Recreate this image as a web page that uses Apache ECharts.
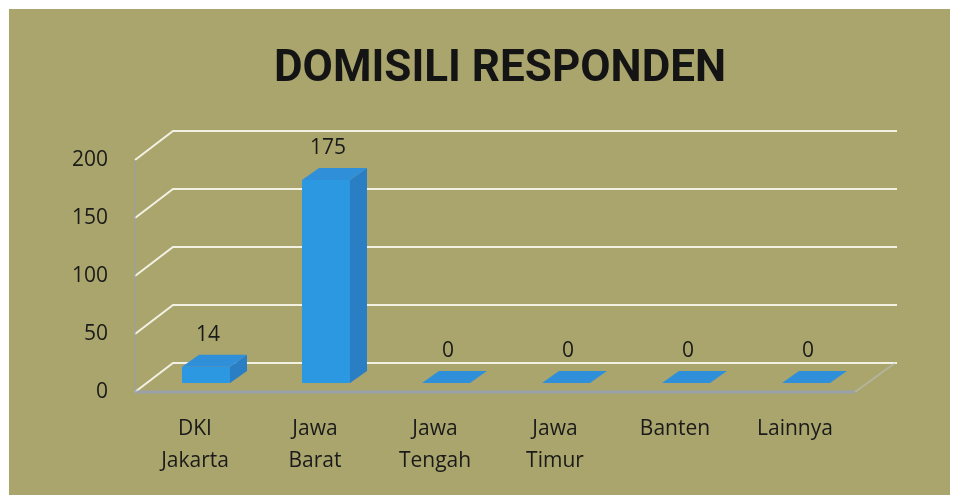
<!DOCTYPE html>
<html>
<head>
<meta charset="utf-8">
<script src="https://cdn.jsdelivr.net/npm/echarts@6/dist/echarts.min.js"></script>
<style>
    html, body { margin: 0; padding: 0; background: #fff; }
    #chart {
        position: absolute;
        left: 9px;
        top: 9px;
        width: 941px;
        height: 486px;
        background: #aaa56c;
    }
</style>
</head>
<body>
<div id="chart"></div>
<script>
// data
const categories = ['DKI\nJakarta', 'Jawa\nBarat', 'Jawa\nTengah', 'Jawa\nTimur', 'Banten', 'Lainnya'];
const values = [14, 175, 0, 0, 0, 0];
const yTicks = [0, 50, 100, 150, 200];

// pseudo 3d settings
const WALL_DX = 38, WALL_DY = -29;   // back wall offset
const BAR_DX = 11, BAR_DY = -9;      // bar placed a bit into the floor
const DEPTH_DX = 17, DEPTH_DY = -12; // bar depth
const BAR_W = 48;

const chart = echarts.init(document.getElementById('chart'));

const option = {
    animation: false,
    title: {
        text: 'DOMISILI RESPONDEN',
        left: 486,
        top: 34,
        textAlign: 'center',
        textStyle: {
            fontFamily: 'Roboto, "Open Sans", sans-serif',
            fontWeight: 'bold',
            fontSize: 44,
            color: '#141414'
        }
    },
    grid: {
        left: 126,
        right: 95,
        top: 151,
        bottom: 103
    },
    xAxis: {
        type: 'category',
        data: categories,
        axisLine: { show: false },
        axisTick: { show: false },
        axisLabel: {
            margin: 21,
            fontFamily: '"Open Sans", sans-serif',
            fontSize: 21,
            lineHeight: 32,
            color: '#1a1a1a'
        }
    },
    yAxis: {
        type: 'value',
        min: 0,
        max: 200,
        interval: 50,
        axisLine: { show: false },
        axisTick: { show: false },
        splitLine: { show: false },
        axisLabel: {
            margin: 27,
            fontFamily: '"Open Sans", sans-serif',
            fontSize: 21,
            color: '#1a1a1a'
        }
    },
    series: [
        {
            // back wall grid + side diagonals
            type: 'custom',
            silent: true,
            z: 1,
            data: yTicks.map(function (t) { return [0, t]; }),
            renderItem: function (params, api) {
                const cs = params.coordSys;
                const y = api.coord([0, api.value(1)])[1];
                const x0 = cs.x, x1 = cs.x + cs.width;
                return {
                    type: 'polyline',
                    shape: {
                        points: [[x0, y], [x0 + WALL_DX, y + WALL_DY], [x1 + 42, y + WALL_DY]]
                    },
                    style: { stroke: '#f3f1e4', lineWidth: 2, fill: null }
                };
            }
        },
        {
            // floor front edge + left wall edge
            type: 'custom',
            silent: true,
            z: 1,
            data: [[0, 0]],
            renderItem: function (params, api) {
                const cs = params.coordSys;
                const y0 = api.coord([0, 0])[1];
                const yTop = api.coord([0, 200])[1];
                const x0 = cs.x, x1 = cs.x + cs.width;
                return {
                    type: 'group',
                    children: [
                        {
                            type: 'line',
                            shape: { x1: x0, y1: y0, x2: x1, y2: y0 },
                            style: { stroke: 'rgba(150,160,190,0.75)', lineWidth: 3 }
                        },
                        {
                            type: 'line',
                            shape: { x1: x1, y1: y0, x2: x1 + 40, y2: y0 + WALL_DY },
                            style: { stroke: 'rgba(190,195,200,0.5)', lineWidth: 2 }
                        },
                        {
                            type: 'line',
                            shape: { x1: x0, y1: y0, x2: x0, y2: yTop },
                            style: { stroke: 'rgba(150,160,180,0.45)', lineWidth: 2 }
                        }
                    ]
                };
            }
        },
        {
            // 3d bars
            type: 'custom',
            z: 5,
            data: values.map(function (v, i) { return [i, v]; }),
            renderItem: function (params, api) {
                const i = api.value(0);
                const v = api.value(1);
                const top = api.coord([i, v]);
                const base = api.coord([i, 0]);
                const xL = top[0] + BAR_DX - BAR_W / 2;
                const xR = xL + BAR_W;
                const yT = top[1] + BAR_DY;
                const yB = base[1] + BAR_DY;
                return {
                    type: 'group',
                    children: [
                        {
                            type: 'polygon',
                            shape: { points: [[xR, yT], [xR + DEPTH_DX, yT + DEPTH_DY], [xR + DEPTH_DX, yB + DEPTH_DY], [xR, yB]] },
                            style: { fill: '#2a7fc4' }
                        },
                        {
                            type: 'rect',
                            shape: { x: xL, y: yT, width: BAR_W, height: yB - yT },
                            style: { fill: '#2d98e2' }
                        },
                        {
                            type: 'polygon',
                            shape: { points: [[xL, yT], [xL + DEPTH_DX, yT + DEPTH_DY], [xR + DEPTH_DX, yT + DEPTH_DY], [xR, yT]] },
                            style: { fill: '#2f8fd8' }
                        },
                        {
                            type: 'text',
                            style: {
                                x: top[0] + BAR_DX + 2,
                                y: yT + DEPTH_DY - 20,
                                text: String(v),
                                textAlign: 'center',
                                textVerticalAlign: 'middle',
                                fontFamily: '"Open Sans", sans-serif',
                                fontSize: 21,
                                fill: '#1a1a1a'
                            }
                        }
                    ]
                };
            }
        }
    ]
};

chart.setOption(option);
</script>
</body>
</html>
